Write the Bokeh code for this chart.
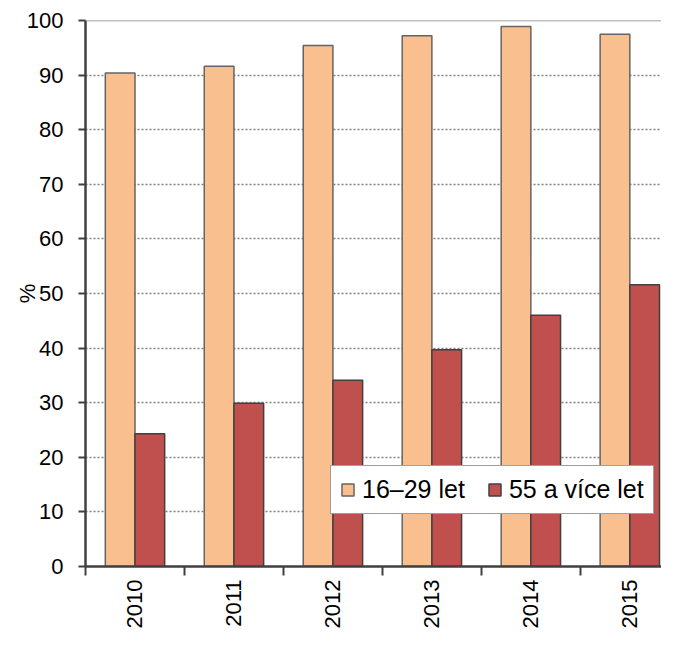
import math
from bokeh.plotting import figure
from bokeh.models import ColumnDataSource, Range1d, FixedTicker, Span, Legend, LegendItem
from bokeh.transform import dodge
from bokeh.embed import file_html
from bokeh.resources import INLINE

years = ["2010", "2011", "2012", "2013", "2014", "2015"]
young = [90.4, 91.6, 95.4, 97.2, 98.9, 97.5]
old = [24.3, 29.9, 34.1, 39.7, 46.0, 51.6]
series_names = ["16\u201329 let", "55 a více let"]
y_ticks = [0, 10, 20, 30, 40, 50, 60, 70, 80, 90, 100]
y_title = "%"

centers = [i + 0.5 for i in range(len(years))]
src = ColumnDataSource(dict(x=centers, young=young, old=old))

FONT = "Liberation Sans"

p = figure(width=661, height=631, output_backend="svg", toolbar_location=None,
           x_range=Range1d(0, 5.82), y_range=Range1d(0, 100),
           min_border_left=85, min_border_right=0, min_border_top=20, min_border_bottom=57)
p.outline_line_color = None
p.background_fill_color = "white"
p.border_fill_color = "white"

r1 = p.vbar(x=dodge("x", -0.15, range=p.x_range), top="young", width=0.3, source=src,
            fill_color="#F9BF8F", line_color="#646464", line_width=1.5)
r2 = p.vbar(x=dodge("x", 0.15, range=p.x_range), top="old", width=0.3, source=src,
            fill_color="#C0504D", line_color="#404040", line_width=1.5)

# grid
p.xgrid.grid_line_color = None
p.ygrid.ticker = FixedTicker(ticks=y_ticks)
p.ygrid.grid_line_color = "#808080"
p.ygrid.grid_line_dash = "2 2"
p.ygrid.grid_line_width = 1.5
p.add_layout(Span(location=100, dimension="width", line_color="#808080", line_width=1.5))

# y axis
ya = p.yaxis[0]
ya.ticker = FixedTicker(ticks=y_ticks)
ya.axis_line_color = "#404040"
ya.axis_line_width = 2.5
ya.major_tick_line_color = "#404040"
ya.major_tick_line_width = 2
ya.major_tick_out = 7
ya.major_tick_in = 0
ya.minor_tick_line_color = None
ya.major_label_text_font = FONT
ya.major_label_text_font_size = "22px"
ya.major_label_text_color = "#000000"
ya.major_label_standoff = 15
ya.axis_label = y_title
ya.axis_label_text_font = FONT
ya.axis_label_text_font_size = "22px"
ya.axis_label_text_font_style = "normal"
ya.axis_label_text_color = "#000000"
ya.axis_label_standoff = -16

# x axis
xa = p.xaxis[0]
xa.ticker = FixedTicker(ticks=centers, minor_ticks=[0, 1, 2, 3, 4, 5, 6])
xa.major_label_overrides = {c: y for c, y in zip(centers, years)}
xa.major_label_orientation = math.pi / 2
xa.major_label_text_font = FONT
xa.major_label_text_font_size = "22px"
xa.major_label_text_color = "#000000"
xa.major_label_standoff = 4
xa.major_tick_out = 0
xa.major_tick_in = 0
xa.major_tick_line_color = None
xa.minor_tick_line_color = "#404040"
xa.minor_tick_line_width = 2
xa.minor_tick_out = 9
xa.minor_tick_in = 0
xa.axis_line_color = "#404040"
xa.axis_line_width = 2.5

legend = Legend(items=[LegendItem(label=series_names[0], renderers=[r1]),
                       LegendItem(label=series_names[1], renderers=[r2])],
                orientation="horizontal", location=(245, 52))
legend.label_text_font = FONT
legend.label_text_font_size = "25px"
legend.label_text_color = "#000000"
legend.border_line_color = "#404040"
legend.border_line_width = 1.5
legend.background_fill_alpha = 1
legend.glyph_width = 15
legend.glyph_height = 15
legend.label_standoff = 7
legend.spacing = 22
legend.padding = 9
legend.margin = 0
p.add_layout(legend, "center")

open("out.html", "w").write(file_html(p, INLINE))
